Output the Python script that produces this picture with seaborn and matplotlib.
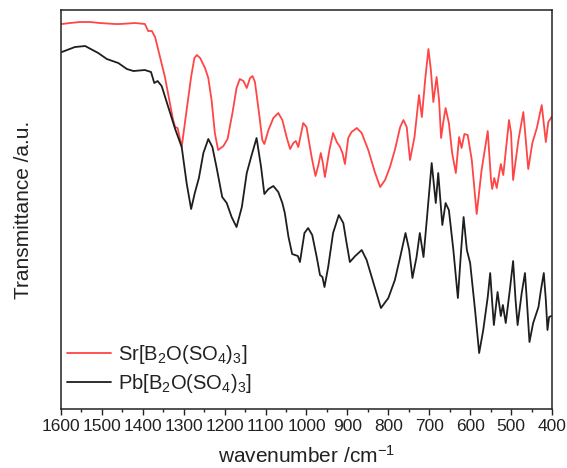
import numpy as np
import pandas as pd
import matplotlib
matplotlib.use("Agg")
import matplotlib.pyplot as plt
import seaborn as sns

# ---- data (wavenumber in cm^-1, transmittance in a.u.) ----
sr_wn = [1598, 1578, 1554, 1529, 1505, 1468, 1456, 1419, 1395, 1387, 1378, 1370,
         1346, 1326, 1321, 1315, 1305, 1293, 1282, 1274, 1268, 1260, 1248, 1240,
         1232, 1224, 1216, 1203, 1193, 1181, 1171, 1163, 1154, 1146, 1138, 1132,
         1126, 1116, 1108, 1103, 1093, 1081, 1069, 1059, 1048, 1040, 1032, 1026,
         1020, 1008, 1000, 987, 978, 971, 965, 960, 955, 944, 935, 926, 918, 912,
         906, 898, 890, 877, 865, 849, 833, 820, 808, 796, 784, 771, 763, 755,
         747, 736, 725, 718, 710, 702, 696, 690, 682, 676, 671, 666, 660, 652,
         644, 635, 627, 621, 614, 606, 596, 584, 572, 557, 549, 546, 541, 535,
         525, 519, 505, 500, 495, 482, 470, 464, 458, 448, 437, 425, 415, 409, 401]
sr_t = [385, 386, 387, 387, 386, 385, 385, 386, 385, 378, 378, 372,
        332, 289, 282, 281, 262, 299, 332, 351, 354, 351, 341, 331,
        309, 276, 259, 263, 270, 296, 321, 330, 328, 321, 331, 333,
        327, 296, 269, 265, 279, 291, 296, 289, 271, 260, 266, 268,
        262, 286, 282, 251, 233, 244, 256, 246, 232, 259, 276, 267, 262, 256,
        245, 271, 277, 281, 276, 259, 237, 222, 229, 242, 259, 282, 289, 282,
        249, 272, 314, 292, 329, 360, 339, 307, 332, 309, 271, 286, 301, 286,
        256, 236, 272, 261, 275, 274, 249, 195, 239, 278, 229, 220, 231, 221,
        245, 234, 289, 276, 229, 269, 297, 269, 240, 266, 281, 304, 267, 287, 292]

pb_wn = [1598, 1566, 1541, 1509, 1488, 1460, 1439, 1423, 1395, 1380, 1372, 1364,
         1354, 1334, 1321, 1305, 1293, 1282, 1273, 1263, 1252, 1240, 1230, 1220,
         1206, 1195, 1183, 1171, 1158, 1146, 1134, 1122, 1111, 1103, 1093, 1081,
         1069, 1059, 1053, 1044, 1035, 1021, 1016, 1005, 996, 986, 975, 967, 961,
         956, 947, 935, 921, 910, 902, 894, 881, 865, 853, 837, 818, 800, 784,
         771, 758, 749, 741, 731, 723, 714, 706, 694, 684, 678, 668, 660, 652,
         641, 630, 622, 616, 608, 600, 588, 578, 568, 557, 551, 546, 542, 533,
         525, 520, 513, 503, 495, 489, 484, 474, 466, 461, 455, 446, 433, 427,
         420, 415, 411, 407, 402]
pb_t = [357, 362, 363, 356, 350, 346, 340, 338, 339, 337, 326, 328,
        323, 297, 280, 262, 226, 200, 216, 231, 256, 270, 262, 242,
        212, 206, 192, 182, 202, 236, 254, 271, 242, 215, 220, 223,
        217, 206, 196, 172, 155, 153, 147, 176, 181, 174, 152, 134, 132,
        122, 142, 176, 194, 186, 166, 147, 153, 159, 149, 127, 101, 111, 129,
        152, 176, 159, 131, 152, 176, 152, 189, 246, 206, 236, 184, 206, 199,
        159, 111, 159, 192, 159, 146, 99, 56, 79, 112, 136, 106, 84, 117,
        93, 104, 86, 119, 148, 109, 84, 116, 136, 106, 67, 86, 102, 119,
        136, 109, 79, 92, 93]

labels = ["Sr[B$_2$O(SO$_4$)$_3$]", "Pb[B$_2$O(SO$_4$)$_3$]"]
colors = ["#ff4545", "#1e1e1e"]
xticks = list(range(1600, 399, -100))
minor_xticks = list(range(1550, 400, -100))

df = pd.concat([
    pd.DataFrame({"wn": sr_wn, "T": sr_t, "sample": labels[0]}),
    pd.DataFrame({"wn": pb_wn, "T": pb_t, "sample": labels[1]}),
], ignore_index=True)

sns.set_style("ticks")
plt.rcParams["font.family"] = ["Liberation Sans", "DejaVu Sans"]
plt.rcParams["mathtext.fontset"] = "custom"
plt.rcParams["mathtext.rm"] = "Liberation Sans"
plt.rcParams["mathtext.it"] = "Liberation Sans:italic"
plt.rcParams["mathtext.bf"] = "Liberation Sans:bold"
plt.rcParams["axes.unicode_minus"] = False
plt.rcParams["lines.solid_joinstyle"] = "round"

fig = plt.figure(figsize=(5.67, 4.68), dpi=100)
ax = fig.add_axes([0.1076, 0.126, 0.9735 - 0.1076, 0.9786 - 0.126])

sns.lineplot(data=df, x="wn", y="T", hue="sample", hue_order=labels,
             palette=colors, estimator=None, sort=True, linewidth=1.3, ax=ax)

ax.set_xlim(1600, 400)
ax.set_ylim(0, 399)
ax.set_xticks(xticks)
ax.set_xticks(minor_xticks, minor=True)
ax.set_yticks([])
ax.tick_params(axis="x", which="major", direction="out", length=4, width=1,
               labelsize=12.5, pad=3, colors="#222222")
ax.tick_params(axis="x", which="minor", direction="out", length=2.5, width=1,
               colors="#222222")
for s in ax.spines.values():
    s.set_linewidth(1.1)
    s.set_color("#222222")

ax.set_xlabel("wavenumber /cm$^{-1}$", fontsize=15, labelpad=8, color="#222222")
ax.set_ylabel("Transmittance /a.u.", fontsize=15, labelpad=20, color="#222222")

leg = ax.legend(loc="lower left", bbox_to_anchor=(0.012, 0.035), frameon=False,
                fontsize=14.5, handlelength=2.2, handletextpad=0.35,
                labelspacing=0.3, borderpad=0, borderaxespad=0)
for t in leg.get_texts():
    t.set_color("#222222")

fig.savefig("out.png", dpi=100)
